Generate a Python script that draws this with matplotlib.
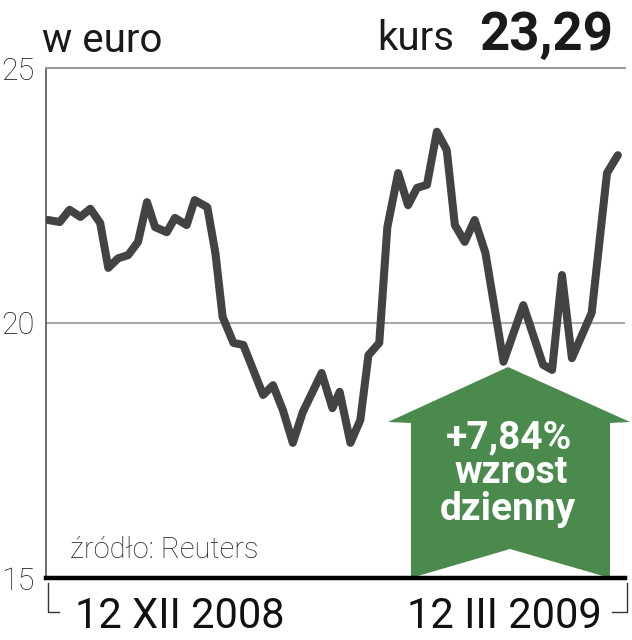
import matplotlib.pyplot as plt
from matplotlib.patches import Polygon
from matplotlib.lines import Line2D

plt.rcParams['font.family'] = ['Roboto', 'DejaVu Sans']

# kurs akcji, dni sesyjne od 12 XII 2008 do 12 III 2009
dni = [0, 1.3, 2.4, 3.6, 4.7, 5.8, 6.7, 7.8, 8.9, 10, 11, 11.9, 13.2, 14.1, 15.4,
       16.3, 17.7, 18.6, 19.4, 20.6, 21.7, 23.9, 25, 26.1, 27.2, 28.3, 30.4, 31.6,
       32.4, 33.6, 34.7, 35.6, 36.8, 37.7, 38.9, 40, 41, 42.1, 43.2, 44.3, 45.2,
       46.3, 47.4, 48.6, 50.6, 52.8, 55, 56, 57.1, 58.2, 60.4, 62.1, 63.3]
kurs = [22.02, 21.98, 22.22, 22.08, 22.24, 21.96, 21.08, 21.27, 21.33, 21.59, 22.37,
        21.88, 21.78, 22.06, 21.92, 22.41, 22.27, 21.37, 20.12, 19.61, 19.57, 18.59,
        18.78, 18.29, 17.65, 18.25, 19.02, 18.33, 18.65, 17.65, 18.10, 19.37, 19.61,
        21.88, 22.94, 22.31, 22.65, 22.71, 23.75, 23.39, 21.92, 21.59, 22.02, 21.37,
        19.24, 20.35, 19.18, 19.08, 20.94, 19.31, 20.20, 22.94, 23.29]
y_ticks = [15, 20, 25]
daty = ['12 XII 2008', '12 III 2009']

W, H = 632, 640
fig = plt.figure(figsize=(W / 100, H / 100), dpi=100, facecolor='white')

def fx(px):
    return px / W

def fy(py):
    return 1 - py / H

ax = fig.add_axes([fx(46), fy(578), fx(625) - fx(46), fy(68) - fy(578)])
ax.set_xlim(-0.22, 64.1)
ax.set_ylim(15, 25)

ax.axhline(20, color='#a8a8a8', lw=1.5, zorder=1)
ax.plot(dni, kurs, color='#434343', lw=5.8, solid_capstyle='round',
        solid_joinstyle='round', zorder=3)

ax.spines['right'].set_visible(False)
ax.spines['top'].set_color('#9a9a9a')
ax.spines['top'].set_linewidth(1.5)
ax.spines['left'].set_color('#555555')
ax.spines['left'].set_linewidth(1.2)
ax.spines['bottom'].set_color('black')
ax.spines['bottom'].set_linewidth(3.2)
ax.spines['bottom'].set_zorder(6)

ax.set_xticks([])
ax.set_yticks(y_ticks)
ax.set_yticklabels([str(t) for t in y_ticks], fontsize=22, color='#222222',
                   fontweight='light')
ax.tick_params(axis='y', length=0, pad=8)

# strzałka wzrostu
strzalka = [(508, 367), (630, 422), (610, 423), (610, 578), (510, 549),
            (411, 578), (411, 423), (388, 422)]
ax.add_patch(Polygon([(fx(a), fy(b)) for a, b in strzalka], closed=True,
                     transform=fig.transFigure, facecolor='#4a8a4c',
                     edgecolor='none', clip_on=False, zorder=4))
fig.text(fx(509), fy(448), '+7,84%', fontsize=28, fontweight='bold', color='white',
         ha='center', va='baseline', zorder=5)
fig.text(fx(511), fy(483), 'wzrost', fontsize=27, fontweight='bold', color='white',
         ha='center', va='baseline', zorder=5)
fig.text(fx(508), fy(520), 'dzienny', fontsize=28, fontweight='bold', color='white',
         ha='center', va='baseline', zorder=5)

# nagłówki
fig.text(fx(42), fy(52), 'w euro', fontsize=29, color='#1a1a1a', va='baseline')
fig.text(fx(377), fy(50), 'kurs', fontsize=29, color='#1a1a1a', va='baseline')
fig.text(fx(613), fy(50), '23,29', fontsize=38, fontweight='bold', color='#1a1a1a',
         ha='right', va='baseline')
fig.text(fx(70), fy(558), 'źródło: Reuters', fontsize=21, color='#222222',
         fontweight='light', va='baseline')

# daty i klamry
fig.text(fx(180), fy(616), daty[0], fontsize=30, color='#111111', ha='center', va='center')
fig.text(fx(504), fy(616), daty[1], fontsize=30, color='#111111', ha='center', va='center')
for xs, ys in [([47.5, 47.5, 59], [583, 612, 612]), ([627, 627, 612], [583, 612, 612])]:
    fig.add_artist(Line2D([fx(v) for v in xs], [fy(v) for v in ys], color='#333333',
                          lw=1.0, transform=fig.transFigure))

fig.savefig('out.png', dpi=100, facecolor='white')
